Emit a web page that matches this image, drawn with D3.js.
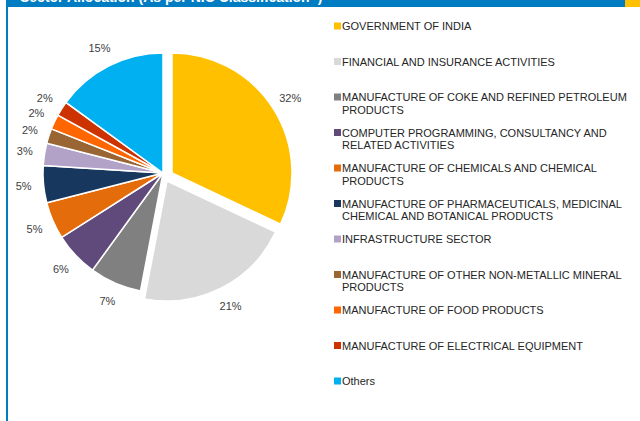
<!DOCTYPE html>
<html>
<head>
<meta charset="utf-8">
<script src="https://cdn.jsdelivr.net/npm/d3@7"></script>
<style>
  body { margin: 0; background: #fff; }
  svg { display: block; font-family: "Liberation Sans", Arial, sans-serif; }
</style>
</head>
<body>
<svg id="chart" width="640" height="421"></svg>
<script>
// data //
const sectors = [
  'GOVERNMENT OF INDIA',
  'FINANCIAL AND INSURANCE ACTIVITIES',
  'MANUFACTURE OF COKE AND REFINED PETROLEUM|PRODUCTS',
  'COMPUTER PROGRAMMING, CONSULTANCY AND|RELATED ACTIVITIES',
  'MANUFACTURE OF CHEMICALS AND CHEMICAL|PRODUCTS',
  'MANUFACTURE OF PHARMACEUTICALS, MEDICINAL|CHEMICAL AND BOTANICAL PRODUCTS',
  'INFRASTRUCTURE SECTOR',
  'MANUFACTURE OF OTHER NON-METALLIC MINERAL|PRODUCTS',
  'MANUFACTURE OF FOOD PRODUCTS',
  'MANUFACTURE OF ELECTRICAL EQUIPMENT',
  'Others'
]
const shares = [32, 21, 7, 6, 5, 5, 3, 2, 2, 2, 15]
const labels = ['32%', '21%', '7%', '6%', '5%', '5%', '3%', '2%', '2%', '2%', '15%']
const title = 'Sector Allocation (As per NIC Classification^)'

const colors = ['#FFC000', '#D9D9D9', '#808080', '#604A7B', '#E46C0A', '#17375E',
  '#B3A2C7', '#996633', '#FF6600', '#CC3300', '#00B0F0']

const svg = d3.select('#chart')

// header //
svg.append('rect').attr('x', 6).attr('y', 0).attr('width', 619).attr('height', 7).attr('fill', '#007CC3')
svg.append('rect').attr('x', 625).attr('y', 0).attr('width', 15).attr('height', 7).attr('fill', '#FFC000')
svg.append('rect').attr('x', 6).attr('y', 0).attr('width', 2).attr('height', 421).attr('fill', '#007CC3')
svg.append('text')
  .attr('x', 20).attr('y', 2)
  .attr('fill', '#fff')
  .style('font-size', '14px').style('font-weight', 'bold')
  .text(title)

// pie //
const cx = 163, cy = 173, radius = 120, labelRadius = 140
// exploded slices (dx, dy)
const explode = [[9, 0], [4, 8]]

const pie = d3.pie().sort(null).value(d => d)
const arc = d3.arc().innerRadius(0).outerRadius(radius)
const arcs = pie(shares)

const g = svg.append('g').attr('transform', `translate(${cx},${cy})`)

const slice = g.selectAll('g.slice')
  .data(arcs)
  .join('g')
  .attr('class', 'slice')
  .attr('transform', (d, i) => {
    const o = explode[i] || [0, 0]
    return `translate(${o[0]},${o[1]})`
  })

slice.append('path')
  .attr('d', arc)
  .attr('fill', (d, i) => colors[i])
  .attr('stroke', '#fff')
  .attr('stroke-width', 1.5)

slice.append('text')
  .attr('x', d => Math.sin((d.startAngle + d.endAngle) / 2) * labelRadius)
  .attr('y', d => -Math.cos((d.startAngle + d.endAngle) / 2) * labelRadius)
  .attr('text-anchor', 'middle')
  .attr('dominant-baseline', 'central')
  .attr('fill', '#404040')
  .style('font-size', '11px')
  .text((d, i) => labels[i])

// legend //
const legend = svg.append('g').attr('transform', 'translate(334,26)')
const item = legend.selectAll('g')
  .data(sectors)
  .join('g')
  .attr('transform', (d, i) => `translate(0,${i * 35.5})`)

item.append('rect')
  .attr('x', 0).attr('y', -3.5)
  .attr('width', 7).attr('height', 7)
  .attr('fill', (d, i) => colors[i])

item.append('text')
  .attr('fill', '#262626')
  .style('font-size', '11px')
  .selectAll('tspan')
  .data(d => d.split('|'))
  .join('tspan')
  .attr('x', 8)
  .attr('y', (d, j) => 4 + j * 12.5)
  .text(d => d)
</script>
</body>
</html>
